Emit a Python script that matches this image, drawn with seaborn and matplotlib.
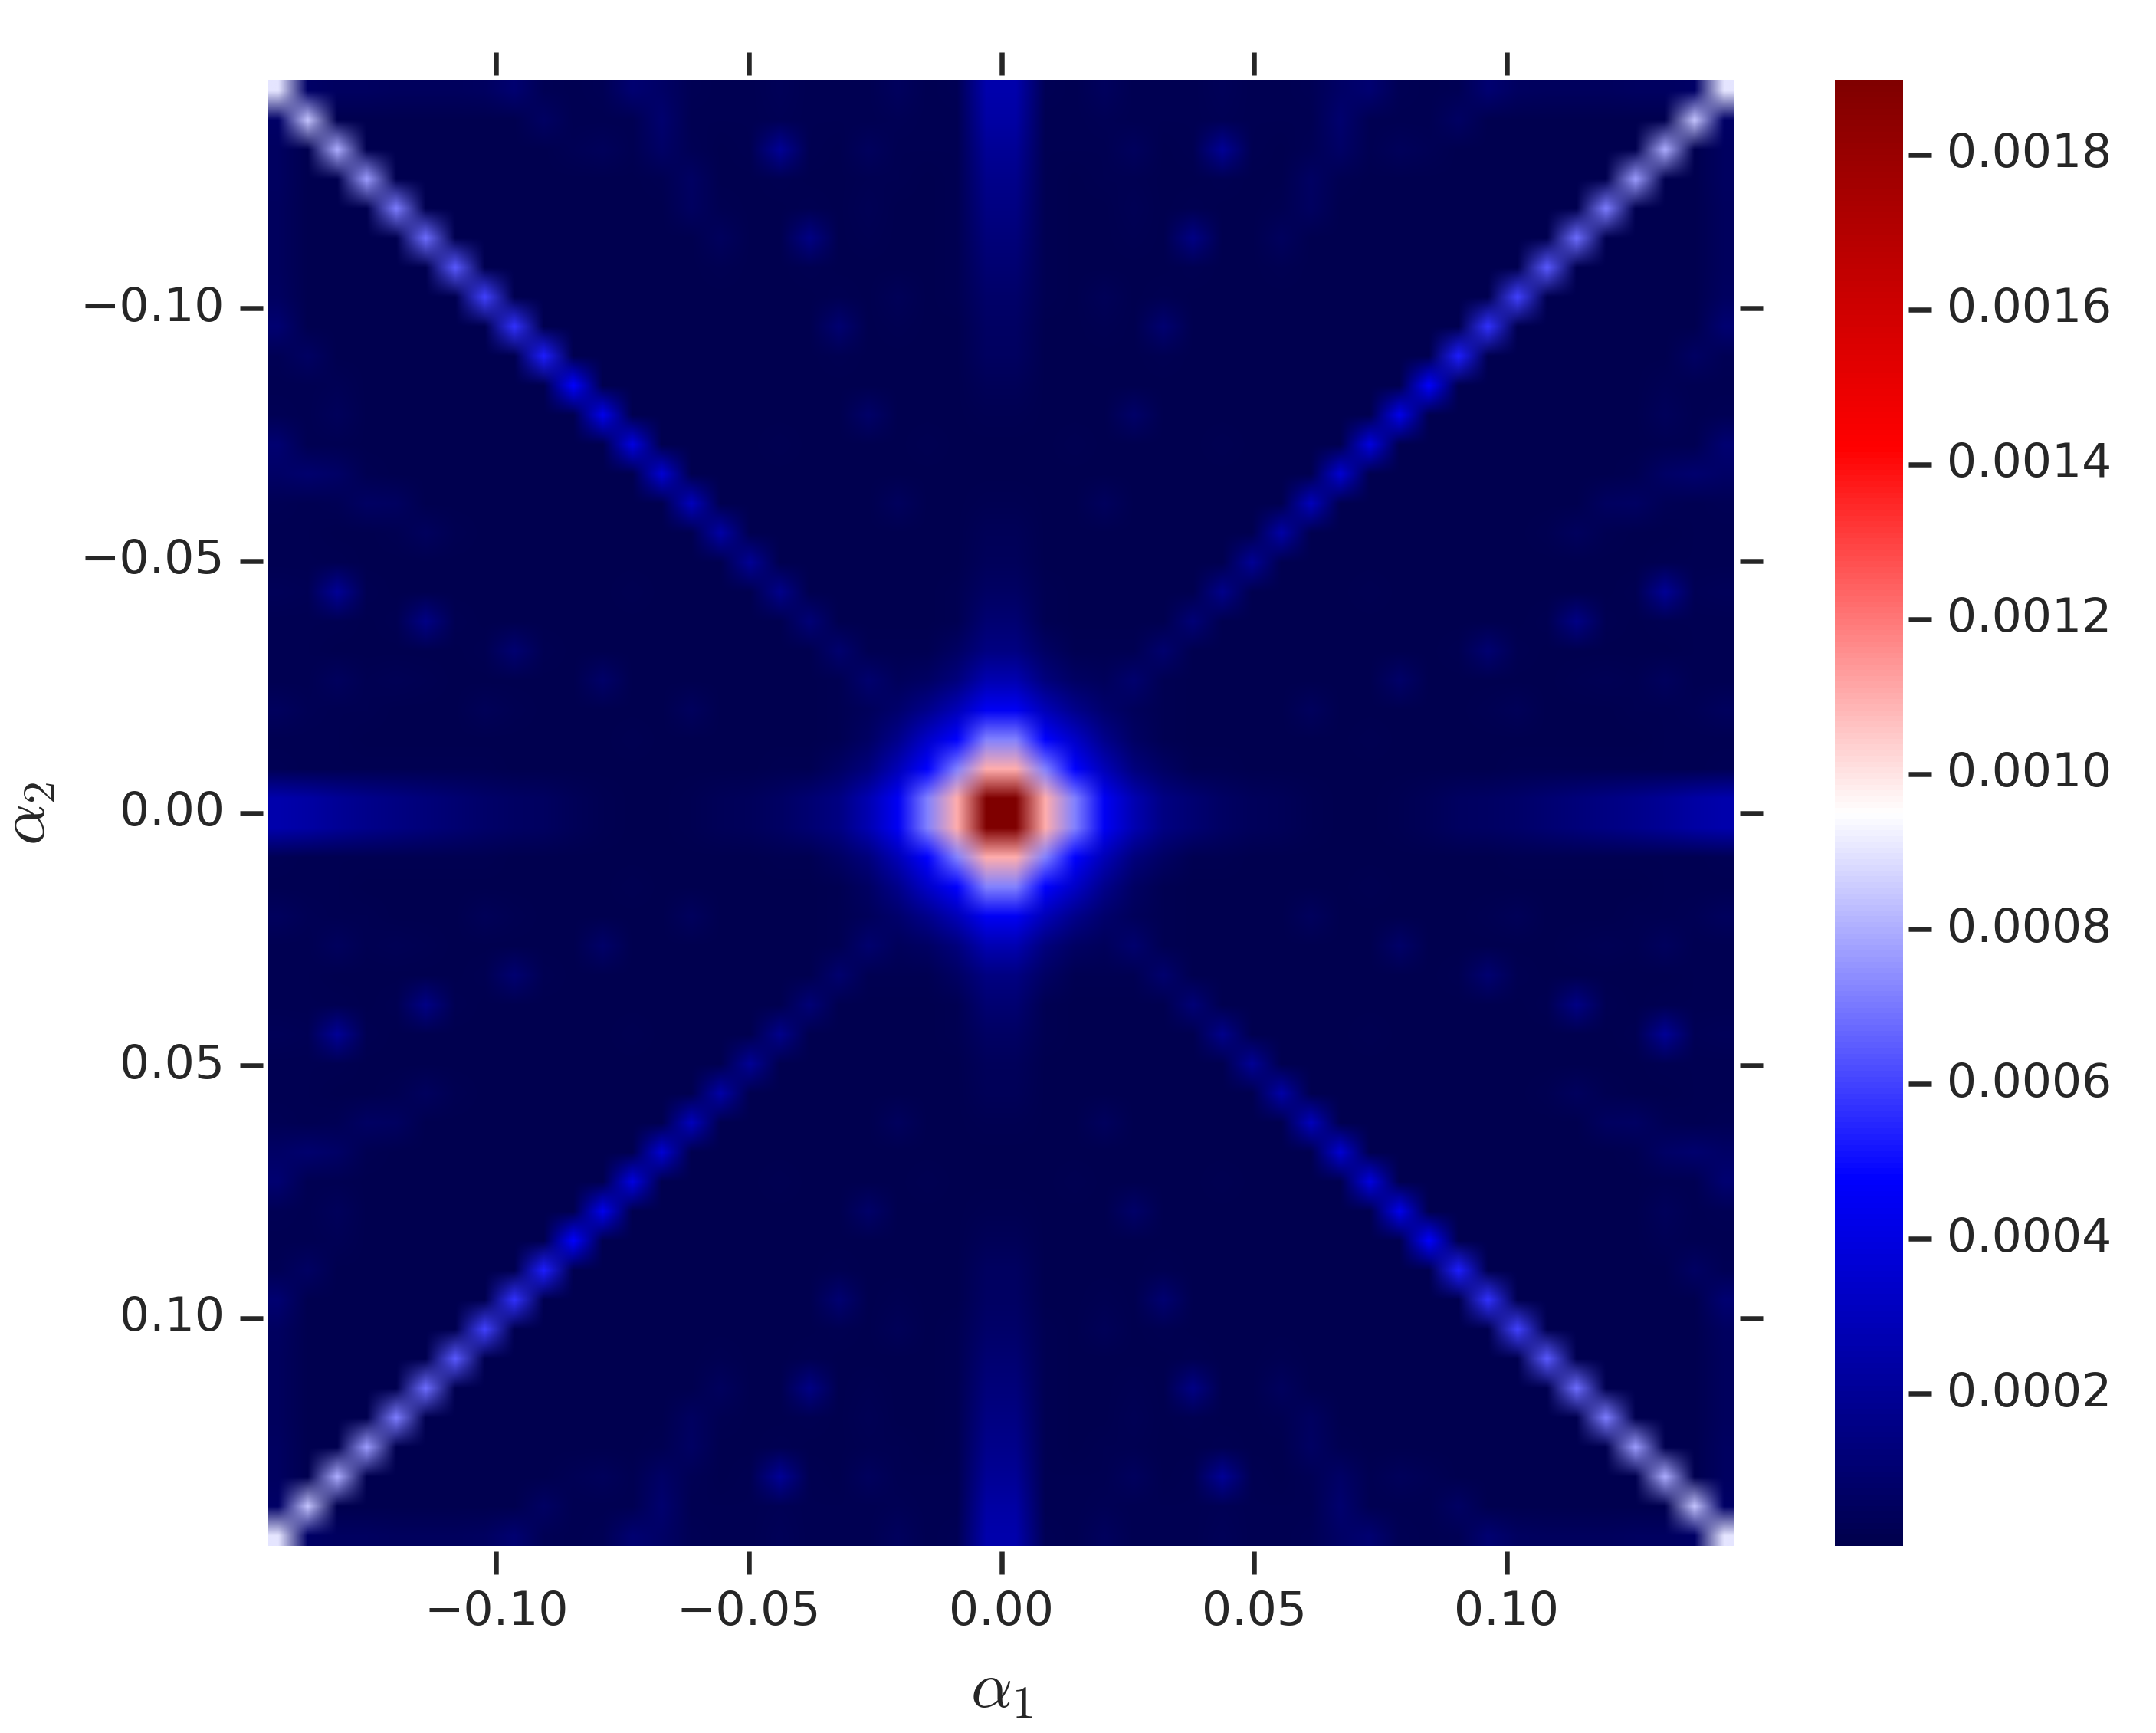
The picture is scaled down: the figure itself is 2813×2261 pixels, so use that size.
import numpy as np
import matplotlib
matplotlib.use('Agg')
import matplotlib.pyplot as plt
import seaborn as sns

# values, in units of 1e-6
# the map looks mirror symmetric, so only one octant is kept: row r holds cells c = 0..r away from the centre
row_00 = [1890]
row_01 = [1100, 720]
row_02 = [720, 480, 330]
row_03 = [450, 290, 170, 90]
row_04 = [270, 130, 65, 40, 92]
row_05 = [150, 65, 25, 20, 18, 92]
row_06 = [100, 25, 15, 14, 14, 14, 118]
row_07 = [65, 18, 14, 14, 12, 12, 14, 172]
row_08 = [45, 16, 14, 12, 12, 12, 12, 14, 198]
row_09 = [33, 14, 14, 14, 12, 12, 12, 12, 14, 240]
row_10 = [25, 14, 14, 52, 12, 12, 12, 12, 12, 14, 300]
row_11 = [17, 14, 14, 14, 12, 12, 12, 12, 12, 12, 14, 360]
row_12 = [17, 14, 25, 12, 14, 12, 12, 18, 12, 12, 12, 14, 400]
row_13 = [18, 14, 14, 16, 79, 14, 12, 12, 12, 12, 12, 12, 14, 430]
row_14 = [35, 14, 14, 14, 16, 14, 12, 12, 12, 12, 12, 12, 12, 14, 480]
row_15 = [60, 14, 14, 14, 14, 20, 14, 12, 12, 12, 12, 12, 12, 12, 14, 530]
row_16 = [65, 16, 14, 18, 14, 105, 16, 12, 12, 12, 12, 12, 12, 12, 12, 14, 570]
row_17 = [79, 18, 14, 39, 14, 18, 14, 14, 12, 14, 12, 12, 12, 12, 12, 12, 14, 600]
row_18 = [105, 18, 14, 14, 14, 14, 18, 14, 12, 25, 12, 12, 12, 12, 12, 12, 12, 14, 640]
row_19 = [125, 20, 14, 16, 20, 14, 158, 16, 14, 52, 16, 12, 12, 12, 12, 12, 12, 12, 14, 680]
row_20 = [150, 22, 16, 16, 30, 14, 20, 14, 14, 20, 55, 14, 12, 12, 12, 12, 12, 12, 12, 14, 710]
row_21 = [172, 22, 16, 18, 25, 16, 16, 22, 14, 14, 65, 20, 14, 12, 12, 12, 12, 12, 12, 12, 14, 770]
row_22 = [198, 25, 18, 25, 52, 16, 18, 198, 18, 16, 30, 75, 18, 40, 30, 14, 12, 12, 12, 12, 12, 14, 800]
row_23 = [235, 25, 18, 30, 20, 18, 20, 30, 18, 20, 25, 92, 25, 18, 20, 65, 14, 12, 12, 12, 12, 12, 14, 840]
row_24 = [260, 30, 20, 52, 25, 20, 18, 35, 20, 25, 30, 70, 100, 30, 25, 30, 100, 60, 50, 50, 50, 55, 60, 70, 898]

rows = [row_00, row_01, row_02, row_03, row_04, row_05, row_06, row_07, row_08, row_09, row_10, row_11, row_12,
        row_13, row_14, row_15, row_16, row_17, row_18, row_19, row_20, row_21, row_22, row_23, row_24]

alpha_ticks = [-0.10, -0.05, 0.00, 0.05, 0.10]
cbar_ticks = [0.0002, 0.0004, 0.0006, 0.0008, 0.0010, 0.0012, 0.0014, 0.0016, 0.0018]
vmin = 0.000003
vmax = 0.001896
alpha_lim = 0.1451
image_lim = 0.146

quad = np.zeros((25, 25))
for r, row in enumerate(rows):
    for c, v in enumerate(row):
        quad[r, c] = v * 1e-6
        quad[c, r] = v * 1e-6
top = np.hstack([quad[::-1, ::-1], quad[::-1, :]])
matrix = np.vstack([top, top[::-1, :]])

sns.set_theme(style='ticks', rc={'xtick.major.size': 6, 'ytick.major.size': 6,
                                 'xtick.major.width': 1.3, 'ytick.major.width': 1.3,
                                 'ytick.alignment': 'center',
                                 'mathtext.fontset': 'cm'})

W, H = 2813, 2261
fig = plt.figure(figsize=(W / 360, H / 360), dpi=360)
ax = fig.add_axes([350 / W, (H - 2017) / H, 1913 / W, 1912 / H])
cax = fig.add_axes([2394 / W, (H - 2017) / H, 89 / W, 1912 / H])

cmap = sns.color_palette('seismic', as_cmap=True)
im = ax.imshow(matrix, cmap=cmap, vmin=vmin, vmax=vmax, interpolation='bilinear', interpolation_stage='rgba',
               extent=(-image_lim, image_lim, image_lim, -image_lim), aspect='auto')
ax.set_xlim(-alpha_lim, alpha_lim)
ax.set_ylim(alpha_lim, -alpha_lim)
ax.set_xticks(alpha_ticks)
ax.set_yticks(alpha_ticks)
ax.set_xticklabels(['\u22120.10', '\u22120.05', '0.00', '0.05', '0.10'])
ax.set_yticklabels(['\u22120.10', '\u22120.05', '0.00', '0.05', '0.10'])
ax.tick_params(top=True, right=True, labeltop=False, labelright=False, labelsize=12.3, pad=4)
ax.set_xlabel(r'$\alpha_1$', fontsize=17, labelpad=6)
ax.set_ylabel(r'$\alpha_2$', fontsize=17, labelpad=5.5)

sns.despine(ax=ax, top=False, right=False, left=False, bottom=False, offset=1.4)
for side in ax.spines:
    ax.spines[side].set_visible(False)

cbar = fig.colorbar(im, cax=cax, ticks=cbar_ticks, format='%.4f')
cbar.outline.set_visible(False)
cax.tick_params(labelsize=12.3, pad=4)
cax.spines['right'].set_position(('outward', 1.4))

fig.savefig('out.png', dpi=360)
